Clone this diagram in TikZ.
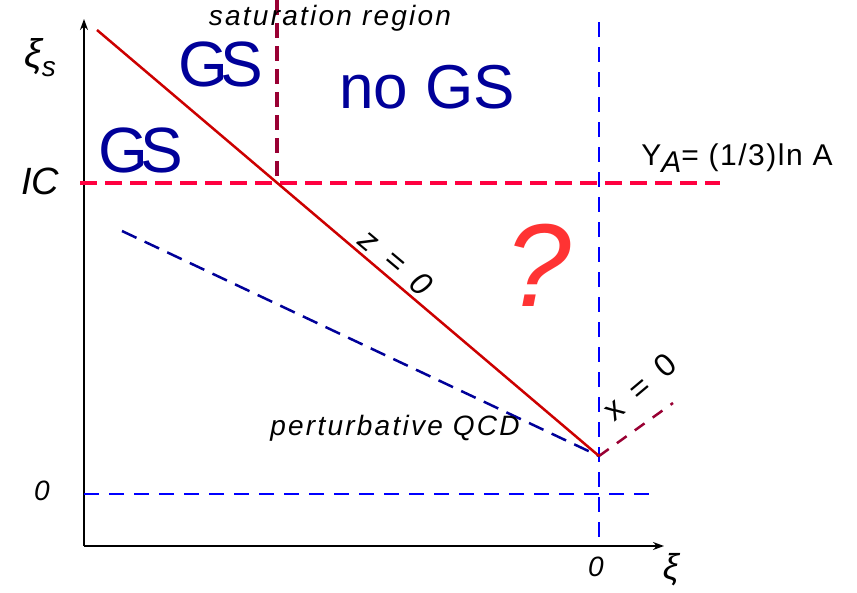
\documentclass[tikz,border=0pt]{standalone}
\usepackage{fontspec}
\setmainfont{Liberation Sans}
\usetikzlibrary{arrows.meta}
\definecolor{icred}{HTML}{FF0040}
\definecolor{zred}{HTML}{CC0000}
\definecolor{qred}{HTML}{FF3333}
\definecolor{satmaroon}{HTML}{990033}
\definecolor{gsnavy}{HTML}{000099}
\definecolor{zeroblue}{HTML}{0000FF}
\tikzset{
  axis/.style={line width=1.4pt, -{Stealth[length=11pt,width=8pt]}},
  tag/.style={inner sep=0pt, font=\fontsize{28}{28}\selectfont\itshape\addfontfeature{LetterSpace=8}},
  region/.style={inner sep=0pt, text=gsnavy, font=\fontsize{62}{62}\selectfont},
  icline/.style={draw=icred, line width=4pt, dash pattern=on 17pt off 8pt},
  satline/.style={draw=satmaroon, line width=4pt, dash pattern=on 15pt off 8pt},
  zeroline/.style={draw=zeroblue, line width=2pt, dash pattern=on 15pt off 10pt},
  pqcdline/.style={draw=gsnavy, line width=2.5pt, dash pattern=on 16pt off 9pt},
  xline/.style={draw=satmaroon, line width=2.5pt, dash pattern=on 12pt off 10pt},
}
\begin{document}
\begin{tikzpicture}[x=1pt, y=-1pt]
  \useasboundingbox (0,0) rectangle (857,592);
  % axes
  \coordinate (o) at (84,546);
  \coordinate (ytop) at (84,19);
  \coordinate (xend) at (664,546);
  \draw[axis] (o) -- (ytop);
  \draw[axis] (o) -- (xend);
  % reference lines
  \coordinate (icl) at (80,183);
  \coordinate (icr) at (720,183);
  \coordinate (sattop) at (277,0);
  \coordinate (satbot) at (277,183);
  \coordinate (vtop) at (599,22);
  \coordinate (vbot) at (599,542);
  \coordinate (hl) at (84,494);
  \coordinate (hr) at (650,494);
  \coordinate (ztop) at (97,30);
  \coordinate (tip) at (599,456);
  \coordinate (ptop) at (122,231);
  \coordinate (xtop) at (673,403);
  \draw[zeroline] (vtop) -- (vbot);
  \draw[zeroline] (hl) -- (hr);
  \draw[icline] (icl) -- (icr);
  \draw[satline] (sattop) -- (satbot);
  \draw[pqcdline] (ptop) -- (tip);
  \draw[xline] (tip) -- (xtop);
  \draw[zred, line width=2.5pt] (ztop) -- (tip);
  % labels
  \node[tag, font=\fontsize{40}{40}\selectfont\itshape] (xis) at (40,58) {ξ\raisebox{-9pt}{\fontsize{28}{28}\selectfont s}};
  \node[tag, font=\fontsize{36}{36}\selectfont\itshape] (xi) at (671,570) {ξ};
  \node[tag, font=\fontsize{38}{38}\selectfont\itshape] (ic) at (40,181) {IC};
  \node[tag] (zl) at (42,491) {0};
  \node[tag] (zb) at (596,567) {0};
  \node[tag] (sat) at (330,18) {saturation region};
  \node[tag] (pqcd) at (395,428) {perturbative QCD};
  \node[tag, font=\fontsize{32}{32}\selectfont\itshape\addfontfeature{LetterSpace=22}, rotate=-40] (zz) at (396,262) {z = 0};
  \node[tag, font=\fontsize{32}{32}\selectfont\addfontfeature{LetterSpace=22}, rotate=40] (xx) at (640,387) {x = 0};
  \node[inner sep=0pt, font=\fontsize{30}{30}\selectfont\addfontfeature{LetterSpace=5}] (ya) at (737,158) {Y\raisebox{-7pt}{\itshape A}= (1/3)ln A};
  \node[region, font=\fontsize{64}{64}\selectfont\addfontfeature{LetterSpace=-13}] (gs1) at (221,64) {GS};
  \node[region, font=\fontsize{64}{64}\selectfont\addfontfeature{LetterSpace=-13}] (gs2) at (141,150) {GS};
  \node[region] (nogs) at (427,87) {no GS};
  \node[inner sep=0pt, text=qred, font=\fontsize{118}{118}\selectfont\itshape] (q) at (538,265) {?};
\end{tikzpicture}
\end{document}
